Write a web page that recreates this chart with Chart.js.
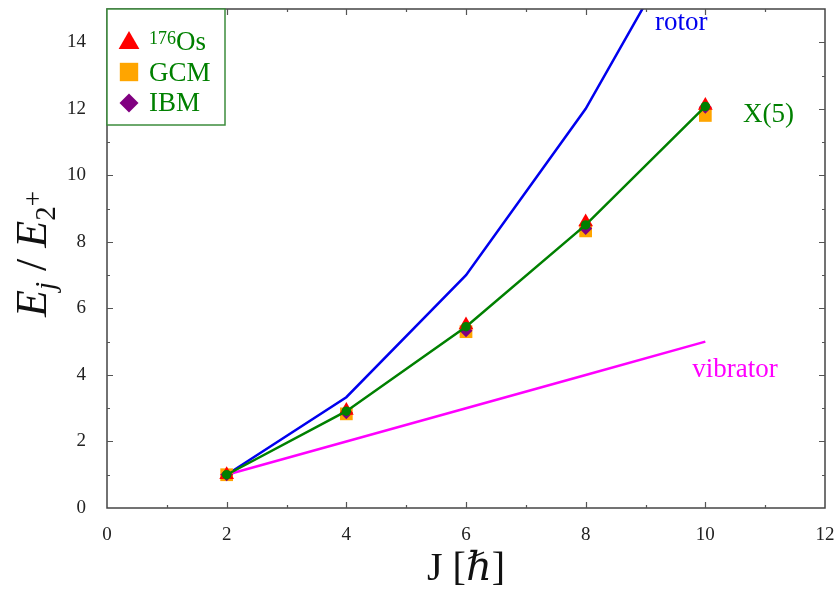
<!DOCTYPE html>
<html>
<head>
<meta charset="utf-8">
<script src="https://cdn.jsdelivr.net/npm/chart.js@4/dist/chart.umd.min.js"></script>
<style>
  html, body { margin: 0; padding: 0; background: #fff; }
  #wrap { width: 838px; height: 593px; position: relative; }
</style>
</head>
<body>
<div id="wrap"><canvas id="chart"></canvas></div>
<script>
// spin J of the yrast states and the energy ratios E_J / E_2+
var spins = [2, 4, 6, 8, 10];
var rotor = [1, 3.33, 7, 12, 18.33];
var x5 = [1, 2.91, 5.45, 8.51, 12.07];
var vibrator = [1, 2, 3, 4, 5];
var os176 = [1, 2.93, 5.50, 8.60, 12.10];
var gcm = [1, 2.83, 5.30, 8.33, 11.80];
var ibm = [1, 2.86, 5.33, 8.40, 12.05];

var xTicks = [0, 2, 4, 6, 8, 10, 12];
var yTicks = [0, 2, 4, 6, 8, 10, 12, 14];
var xMinor = [1, 3, 5, 7, 9, 11];
var yMinor = [1, 3, 5, 7, 9, 11, 13];

var SERIF = '"Liberation Serif", "DejaVu Serif", serif';

function pts(ys) {
  return spins.map(function (j, i) { return { x: j, y: ys[i] }; });
}

function line(label, ys, color, order) {
  return {
    label: label, data: pts(ys), order: order,
    borderColor: color, backgroundColor: color, borderWidth: 2.5,
    pointRadius: 0, tension: 0, fill: false
  };
}

function marks(label, ys, color, style, r, order) {
  return {
    label: label, data: pts(ys), order: order, showLine: false,
    pointStyle: style, pointRadius: r, pointBorderWidth: 0,
    pointBackgroundColor: color, pointBorderColor: color
  };
}

var x5Line = line('X(5)', x5, '#008000', 0);
x5Line.pointRadius = 3.5;

var datasets = [
  x5Line,
  marks('176Os', os176, '#ff0000', 'triangle', 8.5, 1),
  marks('IBM', ibm, '#800080', 'rectRot', 6.5, 2),
  marks('GCM', gcm, '#ffa500', 'rect', 9, 3),
  line('rotor', rotor, '#0000ee', 4),
  line('vibrator', vibrator, '#ff00ff', 5)
];

// frame with inward ticks, curve names, legend box and axis titles
var decor = {
  id: 'decor',
  afterDraw: function (chart) {
    var ctx = chart.ctx;
    var a = chart.chartArea;
    var xs = chart.scales.x, ys = chart.scales.y;
    ctx.save();

    ctx.strokeStyle = '#444';
    ctx.lineWidth = 1.5;
    ctx.strokeRect(a.left, a.top, a.right - a.left, a.bottom - a.top);

    ctx.lineWidth = 1.2;
    ctx.strokeStyle = '#555';
    function xTick(v, len) {
      var px = Math.round(xs.getPixelForValue(v)) + 0.5;
      ctx.beginPath();
      ctx.moveTo(px, a.bottom); ctx.lineTo(px, a.bottom - len);
      ctx.moveTo(px, a.top); ctx.lineTo(px, a.top + len);
      ctx.stroke();
    }
    function yTick(v, len) {
      var py = Math.round(ys.getPixelForValue(v)) + 0.5;
      ctx.beginPath();
      ctx.moveTo(a.left, py); ctx.lineTo(a.left + len, py);
      ctx.moveTo(a.right, py); ctx.lineTo(a.right - len, py);
      ctx.stroke();
    }
    xTicks.slice(1, -1).forEach(function (v) { xTick(v, 6); });
    xMinor.forEach(function (v) { xTick(v, 3); });
    yTicks.slice(1).forEach(function (v) { yTick(v, 6); });
    yMinor.forEach(function (v) { yTick(v, 3); });

    // curve names
    ctx.textBaseline = 'alphabetic';
    ctx.textAlign = 'left';
    ctx.font = '27px ' + SERIF;
    ctx.fillStyle = '#0000ee';
    ctx.fillText('rotor', xs.getPixelForValue(9.16), ys.getPixelForValue(14.36));
    ctx.fillStyle = '#008000';
    ctx.fillText('X(5)', xs.getPixelForValue(10.63), ys.getPixelForValue(11.6));
    ctx.fillStyle = '#ff00ff';
    ctx.fillText('vibrator', xs.getPixelForValue(9.78), ys.getPixelForValue(3.93));

    // legend
    var lx = a.left, ly = a.top;
    ctx.fillStyle = '#fff';
    ctx.fillRect(lx, ly, 118, 116);
    ctx.strokeStyle = '#3c8c3c';
    ctx.lineWidth = 1.5;
    ctx.strokeRect(lx, ly, 118, 116);
    var h = Chart.helpers;
    ctx.fillStyle = '#ff0000';
    h.drawPoint(ctx, { pointStyle: 'triangle', radius: 12, borderWidth: 0 }, lx + 22, ly + 34);
    ctx.fillStyle = '#ffa500';
    h.drawPoint(ctx, { pointStyle: 'rect', radius: 13, borderWidth: 0 }, lx + 22, ly + 63);
    ctx.fillStyle = '#800080';
    h.drawPoint(ctx, { pointStyle: 'rectRot', radius: 9.5, borderWidth: 0 }, lx + 22, ly + 94);
    ctx.fillStyle = '#008000';
    ctx.font = '18px ' + SERIF;
    ctx.fillText('176', lx + 42, ly + 35);
    ctx.font = '27px ' + SERIF;
    ctx.fillText('Os', lx + 69, ly + 41);
    ctx.fillText('GCM', lx + 42, ly + 72);
    ctx.fillText('IBM', lx + 42, ly + 102);

    // x title
    ctx.fillStyle = '#111';
    var cx = (a.left + a.right) / 2;
    var parts = [
      ['J [', '40px ' + SERIF],
      ['\u210F', 'italic 40px ' + SERIF],
      [']', '40px ' + SERIF]
    ];
    var w = 0;
    parts.forEach(function (p) { ctx.font = p[1]; w += ctx.measureText(p[0]).width; });
    var x = cx - w / 2;
    parts.forEach(function (p) {
      ctx.font = p[1]; ctx.fillText(p[0], x, 580); x += ctx.measureText(p[0]).width;
    });

    // y title, rotated
    ctx.translate(46, 254);
    ctx.rotate(-Math.PI / 2);
    var yp = [
      ['E', 'italic 44px ' + SERIF, 0],
      ['j', 'italic 29px ' + SERIF, 9],
      [' / ', '44px ' + SERIF, 0],
      ['E', 'italic 44px ' + SERIF, 0],
      ['2', '29px ' + SERIF, 9],
      ['+', '27px ' + SERIF, -4]
    ];
    w = 0;
    yp.forEach(function (p) { ctx.font = p[1]; w += ctx.measureText(p[0]).width; });
    x = -w / 2;
    yp.forEach(function (p) {
      ctx.font = p[1]; ctx.fillText(p[0], x, p[2]); x += ctx.measureText(p[0]).width;
    });
    ctx.restore();
  }
};

new Chart(document.getElementById('chart'), {
  type: 'line',
  data: { datasets: datasets },
  options: {
    responsive: true,
    maintainAspectRatio: false,
    animation: false,
    layout: { padding: { top: -3, right: 13, left: 0, bottom: 0 } },
    plugins: { legend: { display: false }, tooltip: { enabled: false } },
    scales: {
      x: {
        type: 'linear', min: 0, max: 12,
        grid: { display: false }, border: { display: false },
        afterBuildTicks: function (s) { s.ticks = xTicks.map(function (v) { return { value: v }; }); },
        afterFit: function (s) { s.height = 85; s.paddingLeft = 0; s.paddingRight = 0; },
        ticks: { padding: 8, color: '#222', font: { family: SERIF, size: 19 } }
      },
      y: {
        min: 0, max: 15,
        grid: { display: false }, border: { display: false },
        afterBuildTicks: function (s) { s.ticks = yTicks.map(function (v) { return { value: v }; }); },
        afterFit: function (s) { s.width = 107; s.paddingTop = 0; s.paddingBottom = 0; },
        ticks: { padding: 13, color: '#222', font: { family: SERIF, size: 19 } }
      }
    }
  },
  plugins: [decor]
});
</script>
</body>
</html>
